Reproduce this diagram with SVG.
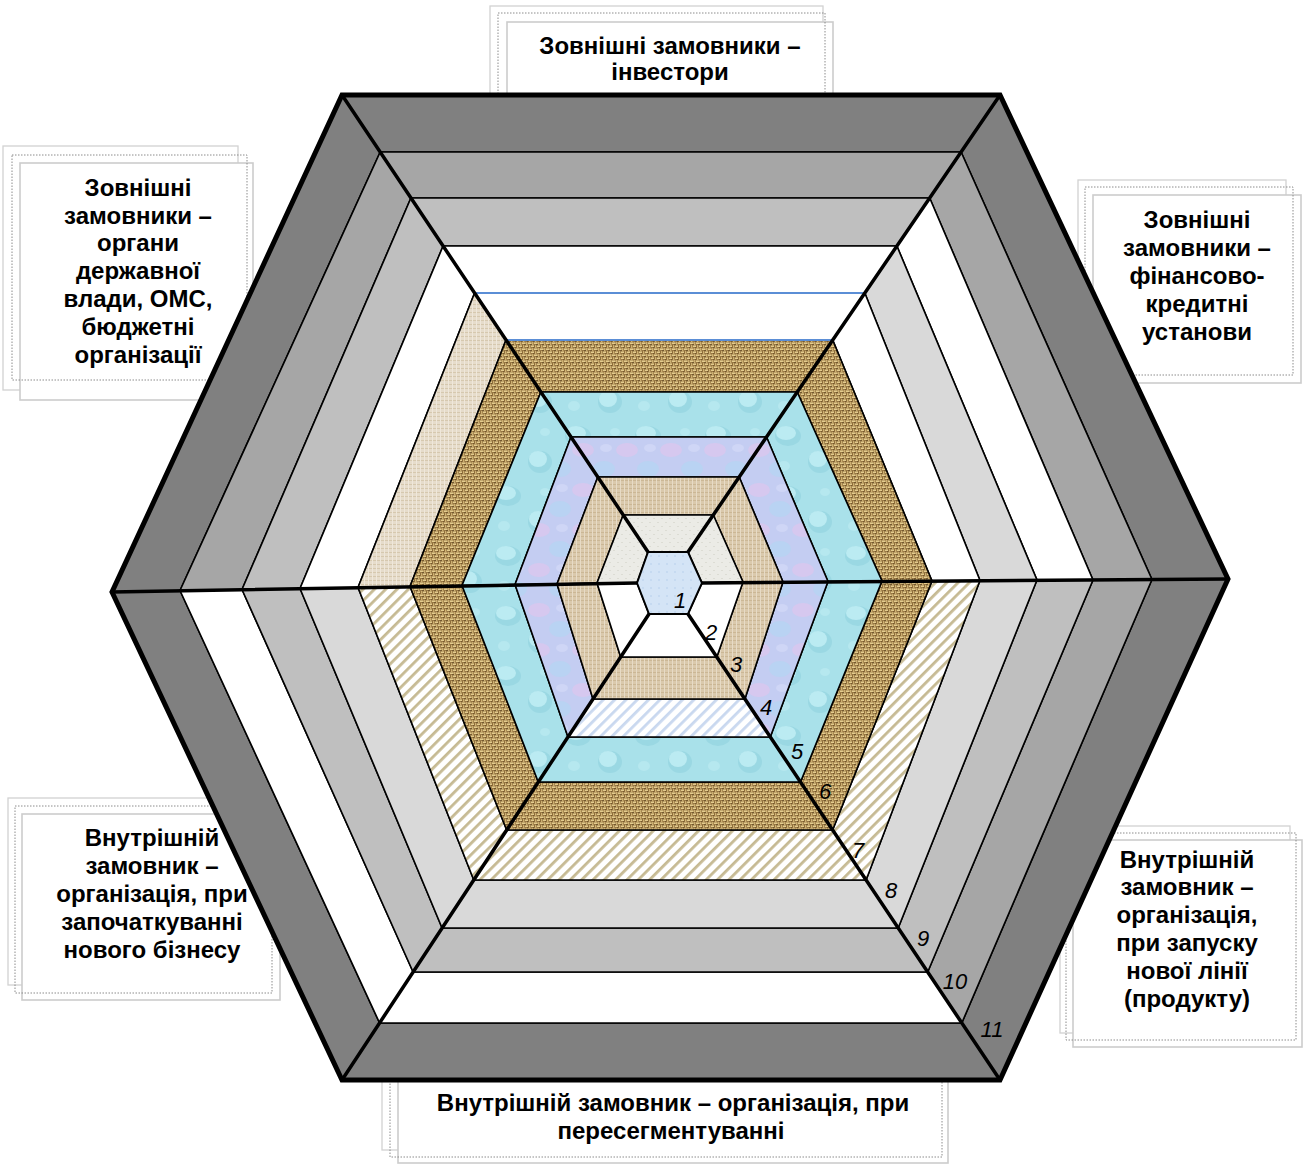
<svg xmlns="http://www.w3.org/2000/svg" width="1303" height="1165" viewBox="0 0 1303 1165">
<defs>
<pattern id="burlap" patternUnits="userSpaceOnUse" width="6" height="6">
<rect width="6" height="6" fill="#8e6d3a"/>
<rect x="0" y="0.4" width="3.6" height="1.7" fill="#e4cc8e"/>
<rect x="3" y="3.4" width="3.6" height="1.7" fill="#e4cc8e"/>
<rect x="4" y="0" width="1.4" height="3" fill="#cdb072"/>
<rect x="1" y="3" width="1.4" height="3" fill="#cdb072"/>
<rect x="2.5" y="2.2" width="1" height="1" fill="#3f2b12"/>
<rect x="5.5" y="5.2" width="1" height="0.8" fill="#3f2b12"/>
</pattern>
<pattern id="linen" patternUnits="userSpaceOnUse" width="4" height="4">
<rect width="4" height="4" fill="#dac9ac"/>
<rect width="4" height="1" fill="#cbb795"/>
<rect width="1" height="4" fill="#e7dbc6"/>
</pattern>
<pattern id="linen2" patternUnits="userSpaceOnUse" width="4" height="4">
<rect width="4" height="4" fill="#e6dccb"/>
<rect width="4" height="1" fill="#d6c8ae"/>
<rect width="1" height="4" fill="#efe7da"/>
</pattern>
<pattern id="water" patternUnits="userSpaceOnUse" width="70" height="60">
<rect width="70" height="60" fill="#a9e1ea"/>
<ellipse cx="18" cy="16" rx="13" ry="10" fill="#9ad8e3"/>
<ellipse cx="16" cy="13" rx="10" ry="7" fill="#bbebf2"/>
<ellipse cx="50" cy="42" rx="12" ry="11" fill="#9ad8e3"/>
<ellipse cx="48" cy="39" rx="9" ry="8" fill="#bbebf2"/>
<ellipse cx="55" cy="12" rx="5" ry="4" fill="#b6e8ef"/>
<ellipse cx="14" cy="46" rx="6" ry="5" fill="#b6e8ef"/>
</pattern>
<pattern id="lav" patternUnits="userSpaceOnUse" width="44" height="40">
<rect width="44" height="40" fill="#c4cdf2"/>
<ellipse cx="11" cy="10" rx="11" ry="7" fill="#d6c8ef"/>
<ellipse cx="32" cy="29" rx="11" ry="8" fill="#b9d3f3"/>
<ellipse cx="34" cy="8" rx="6" ry="4" fill="#cfd6f6"/>
</pattern>
<pattern id="lgray" patternUnits="userSpaceOnUse" width="8" height="8">
<rect width="8" height="8" fill="#ebebe6"/>
<rect x="1" y="2" width="2" height="1" fill="#dcdcd4"/>
<rect x="5" y="6" width="2" height="1" fill="#dcdcd4"/>
</pattern>
<pattern id="hex1" patternUnits="userSpaceOnUse" width="8" height="8">
<rect width="8" height="8" fill="#d4e4f6"/>
<rect x="2" y="3" width="2" height="2" fill="#c6daf1"/>
</pattern>
<pattern id="stripeTan" patternUnits="userSpaceOnUse" width="8" height="8" patternTransform="rotate(45)">
<rect width="8" height="8" fill="#ffffff"/>
<rect width="2.8" height="8" fill="#c6ba93"/>
</pattern>
<pattern id="stripeBlue" patternUnits="userSpaceOnUse" width="8" height="8" patternTransform="rotate(45)">
<rect width="8" height="8" fill="#ffffff"/>
<rect width="2.8" height="8" fill="#c9d8ef"/>
</pattern>
</defs>
<style>
.t{font-family:"Liberation Sans",Arial,sans-serif;font-weight:bold;font-size:24px;fill:#000;text-anchor:middle}
.n{font-family:"Liberation Sans",Arial,sans-serif;font-style:italic;font-size:22px;fill:#000;text-anchor:middle}
.f1{fill:none;stroke:#d2d2d2;stroke-width:1.3}
.f2{fill:none;stroke:#8c8c8c;stroke-width:1;stroke-dasharray:1.5 1.5}
.f3{fill:#fff;stroke:#cccccc;stroke-width:1.6}
.ring polygon{stroke:#000;stroke-width:1.6;stroke-linejoin:round}
.g80{fill:#808080}.ga6{fill:#a6a6a6}.gbf{fill:#bfbfbf}.gd9{fill:#d9d9d9}.wh{fill:#fff}
.bur{fill:url(#burlap)}.lin{fill:url(#linen)}.lin2{fill:url(#linen2)}.wat{fill:url(#water)}.lav{fill:url(#lav)}.lg{fill:url(#lgray)}.st{fill:url(#stripeTan)}.sb{fill:url(#stripeBlue)}
.spoke{stroke:#000;stroke-width:3.5;stroke-linecap:round;fill:none}
.outer{stroke:#000;stroke-width:5;fill:none;stroke-linejoin:miter}
</style>

<g id="box-top">
<rect class="f1" x="490" y="6" width="333" height="110"/>
<rect class="f3" x="507" y="22" width="326" height="100"/>
<rect class="f2" x="498" y="13" width="327" height="105"/>
<text class="t" x="670" y="54">Зовнішні замовники –</text>
<text class="t" x="670" y="80">інвестори</text>
</g>

<g id="box-top-left">
<rect class="f1" x="3" y="146" width="235" height="244"/>
<rect class="f3" x="20" y="163" width="233" height="237"/>
<rect class="f2" x="12" y="155" width="235" height="225"/>
<text class="t" x="138" y="196">Зовнішні</text>
<text class="t" x="138" y="224">замовники –</text>
<text class="t" x="138" y="251">органи</text>
<text class="t" x="138" y="279">державної</text>
<text class="t" x="138" y="307">влади, ОМС,</text>
<text class="t" x="138" y="335">бюджетні</text>
<text class="t" x="138" y="363">організації</text>
</g>

<g id="box-top-right">
<rect class="f1" x="1078" y="180" width="208" height="190"/>
<rect class="f3" x="1093" y="195" width="208" height="188"/>
<rect class="f2" x="1085" y="187" width="208" height="188"/>
<text class="t" x="1197" y="228">Зовнішні</text>
<text class="t" x="1197" y="256">замовники –</text>
<text class="t" x="1197" y="284">фінансово-</text>
<text class="t" x="1197" y="312">кредитні</text>
<text class="t" x="1197" y="340">установи</text>
</g>

<g id="box-bottom-left">
<rect class="f1" x="8" y="798" width="257" height="187"/>
<rect class="f3" x="22" y="814" width="258" height="186"/>
<rect class="f2" x="15" y="806" width="257" height="187"/>
<text class="t" x="152" y="846">Внутрішній</text>
<text class="t" x="152" y="874">замовник –</text>
<text class="t" x="152" y="902">організація, при</text>
<text class="t" x="152" y="930">започаткуванні</text>
<text class="t" x="152" y="958">нового бізнесу</text>
</g>

<g id="box-bottom-right">
<rect class="f1" x="1060" y="826" width="230" height="207"/>
<rect class="f3" x="1073" y="840" width="229" height="207"/>
<rect class="f2" x="1066" y="833" width="230" height="207"/>
<text class="t" x="1187" y="868">Внутрішній</text>
<text class="t" x="1187" y="895">замовник –</text>
<text class="t" x="1187" y="923">організація,</text>
<text class="t" x="1187" y="951">при запуску</text>
<text class="t" x="1187" y="979">нової лінії</text>
<text class="t" x="1187" y="1007">(продукту)</text>
</g>

<g id="box-bottom">
<rect class="f1" x="382" y="1070" width="553" height="80"/>
<rect class="f3" x="398" y="1070" width="550" height="93"/>
<rect class="f2" x="390" y="1070" width="552" height="87"/>
<text class="t" x="673" y="1111">Внутрішній замовник – організація, при</text>
<text class="t" x="671" y="1139">пересегментуванні</text>
</g>

<g id="sector-top" class="ring">
<polygon class="g80" points="342,95 1000,95 961.1,152 380.2,152"/>
<polygon class="ga6" points="380.2,152 961.1,152 929.7,198 410.9,198"/>
<polygon class="gbf" points="410.9,198 929.7,198 896.9,246 443.1,246"/>
<polygon class="wh" points="443.1,246 896.9,246 864.8,293 474.6,293"/>
<polygon class="bur" points="506,340 832.7,340 797.2,392 540.9,392"/>
<polygon class="wat" points="540.9,392 797.2,392 766.5,437 571,437"/>
<polygon class="lav" points="571,437 766.5,437 739.2,477 597.8,477"/>
<polygon class="lin" points="597.8,477 739.2,477 713.3,515 623.2,515"/>
<polygon class="lg" points="623.2,515 713.3,515 688,552 648,552"/>
<polygon class="wh" style="stroke:#5b8ed6;stroke-width:2.2" points="474.6,293 864.8,293 832.7,340 506,340"/>
</g>

<g id="sector-top-right" class="ring">
<polygon class="g80" points="1000,95 1228,579 1152,579.5 961.1,152"/>
<polygon class="ga6" points="961.1,152 1152,579.5 1093,580 929.7,198"/>
<polygon class="wh" points="929.7,198 1093,580 1037,580 896.9,246"/>
<polygon class="gd9" points="896.9,246 1037,580 980,580.5 864.8,293"/>
<polygon class="wh" points="864.8,293 980,580.5 932,581 832.7,340"/>
<polygon class="bur" points="832.7,340 932,581 882,581 797.2,392"/>
<polygon class="wat" points="797.2,392 882,581 828,581.5 766.5,437"/>
<polygon class="lav" points="766.5,437 828,581.5 783,582 739.2,477"/>
<polygon class="lin" points="739.2,477 783,582 743,582 713.3,515"/>
<polygon class="lg" points="713.3,515 743,582 702,583 688,552"/>
</g>

<g id="sector-bottom-right" class="ring">
<polygon class="g80" points="1228,579 1000,1080 961.8,1023 1152,579.5"/>
<polygon class="ga6" points="1152,579.5 961.8,1023 927.7,972 1093,580"/>
<polygon class="gbf" points="1093,580 927.7,972 898.2,928 1037,580"/>
<polygon class="gd9" points="1037,580 898.2,928 866.1,880 980,580.5"/>
<polygon class="st" points="980,580.5 866.1,880 832.6,830 932,581"/>
<polygon class="bur" points="932,581 832.6,830 800.5,782 882,581"/>
<polygon class="wat" points="882,581 800.5,782 770.3,737 828,581.5"/>
<polygon class="lav" points="828,581.5 770.3,737 744.9,699 783,582"/>
<polygon class="lin" points="783,582 744.9,699 716.8,657 743,582"/>
<polygon class="wh" points="743,582 716.8,657 688,614 702,583"/>
</g>

<g id="sector-bottom" class="ring">
<polygon class="g80" points="1000,1080 342,1080 379.6,1023 961.8,1023"/>
<polygon class="wh" points="961.8,1023 379.6,1023 413.1,972 927.7,972"/>
<polygon class="gbf" points="927.7,972 413.1,972 442.1,928 898.2,928"/>
<polygon class="gd9" points="898.2,928 442.1,928 473.8,880 866.1,880"/>
<polygon class="st" points="866.1,880 473.8,880 506.7,830 832.6,830"/>
<polygon class="bur" points="832.6,830 506.7,830 538.3,782 800.5,782"/>
<polygon class="wat" points="800.5,782 538.3,782 568,737 770.3,737"/>
<polygon class="sb" points="770.3,737 568,737 593,699 744.9,699"/>
<polygon class="lin" points="744.9,699 593,699 620.7,657 716.8,657"/>
<polygon class="wh" points="716.8,657 620.7,657 649,614 688,614"/>
</g>

<g id="sector-bottom-left" class="ring">
<polygon class="g80" points="342,1080 112,592 180,590.5 379.6,1023"/>
<polygon class="wh" points="379.6,1023 180,590.5 242,589.5 413.1,972"/>
<polygon class="gbf" points="413.1,972 242,589.5 300,588.5 442.1,928"/>
<polygon class="gd9" points="442.1,928 300,588.5 358,587.5 473.8,880"/>
<polygon class="st" points="473.8,880 358,587.5 410,586.5 506.7,830"/>
<polygon class="bur" points="506.7,830 410,586.5 462,585.5 538.3,782"/>
<polygon class="wat" points="538.3,782 462,585.5 515,584.5 568,737"/>
<polygon class="lav" points="568,737 515,584.5 557,584 593,699"/>
<polygon class="lin" points="593,699 557,584 597,583 620.7,657"/>
<polygon class="wh" points="620.7,657 597,583 637,583 649,614"/>
</g>

<g id="sector-top-left" class="ring">
<polygon class="g80" points="112,592 342,95 380.2,152 180,590.5"/>
<polygon class="ga6" points="180,590.5 380.2,152 410.9,198 242,589.5"/>
<polygon class="gbf" points="242,589.5 410.9,198 443.1,246 300,588.5"/>
<polygon class="wh" points="300,588.5 443.1,246 474.6,293 358,587.5"/>
<polygon class="lin2" points="358,587.5 474.6,293 506,340 410,586.5"/>
<polygon class="bur" points="410,586.5 506,340 540.9,392 462,585.5"/>
<polygon class="wat" points="462,585.5 540.9,392 571,437 515,584.5"/>
<polygon class="lav" points="515,584.5 571,437 597.8,477 557,584"/>
<polygon class="lin" points="557,584 597.8,477 623.2,515 597,583"/>
<polygon class="lg" points="597,583 623.2,515 648,552 637,583"/>
</g>

<g id="spokes">
<line class="spoke" x1="648" y1="552" x2="342" y2="95"/>
<line class="spoke" x1="688" y1="552" x2="1000" y2="95"/>
<line class="spoke" x1="702" y1="583" x2="1228" y2="579"/>
<line class="spoke" x1="688" y1="614" x2="1000" y2="1080"/>
<line class="spoke" x1="649" y1="614" x2="342" y2="1080"/>
<line class="spoke" x1="637" y1="583" x2="112" y2="592"/>
<polygon class="outer" points="342,95 1000,95 1228,579 1000,1080 342,1080 112,592"/>
</g>

<g id="center">
<polygon points="648,552 688,552 702,583 688,614 649,614 637,583" fill="url(#hex1)" stroke="#000" stroke-width="2"/>
</g>

<g id="labels">
<text class="n" x="680" y="608">1</text>
<text class="n" x="711" y="640">2</text>
<text class="n" x="736" y="672">3</text>
<text class="n" x="766" y="715">4</text>
<text class="n" x="797" y="759">5</text>
<text class="n" x="825" y="799">6</text>
<text class="n" x="858" y="858">7</text>
<text class="n" x="891" y="898">8</text>
<text class="n" x="923" y="946">9</text>
<text class="n" x="955" y="989">10</text>
<text class="n" x="992" y="1037">11</text>
</g>
</svg>
